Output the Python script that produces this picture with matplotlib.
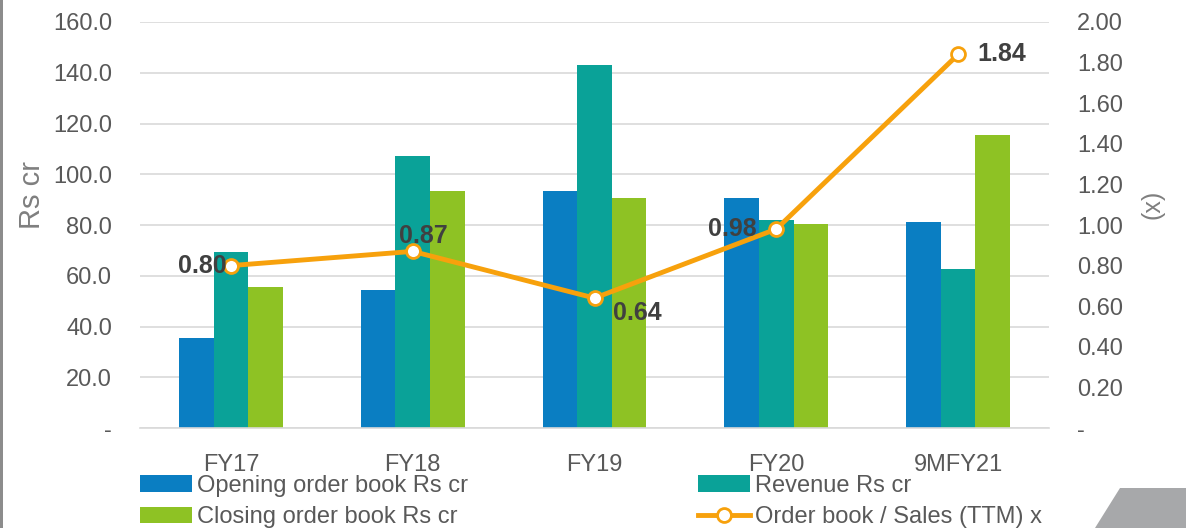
import matplotlib.pyplot as plt
import numpy as np
from matplotlib.patches import Polygon, Rectangle

plt.rcParams['font.family'] = ['Liberation Sans', 'DejaVu Sans']

# data
years = ["FY17", "FY18", "FY19", "FY20", "9MFY21"]
opening = [35.5, 54.5, 93.5, 90.5, 81.0]
revenue = [69.5, 107.0, 143.0, 82.0, 62.5]
closing = [55.5, 93.5, 90.5, 80.5, 115.5]
ratio = [0.80, 0.87, 0.64, 0.98, 1.84]

blue = "#0A7EC2"
teal = "#0AA298"
green = "#8EC224"
orange = "#F7A10C"
grey_txt = "#595959"

fig = plt.figure(figsize=(11.86, 5.28), dpi=100)
ax = fig.add_axes([140/1186, 1 - 428/528, (1049-140)/1186, (428-22)/528])
ax2 = ax.twinx()

x = np.arange(len(years))
w = 0.19
b1 = ax.bar(x - w, opening, w, color=blue, label="Opening order book Rs cr")
b2 = ax.bar(x, revenue, w, color=teal, label="Revenue Rs cr")
b3 = ax.bar(x + w, closing, w, color=green, label="Closing order book Rs cr")

ln, = ax2.plot(x, ratio, color=orange, lw=3.5, marker="o", ms=10,
               mfc="white", mec=orange, mew=2, label="Order book / Sales (TTM) x")

ax.set_xlim(-0.5, 4.5)
ax.set_ylim(0, 160)
ax2.set_ylim(0, 2.0)
ax.set_yticks(np.arange(0, 161, 20))
ax.set_yticklabels(["-"] + ["%.1f" % v for v in np.arange(20, 161, 20)])
ax2.set_yticks(np.arange(0, 2.01, 0.2))
ax2.set_yticklabels(["-"] + ["%.2f" % v for v in np.arange(0.2, 2.01, 0.2)])
ax.set_xticks(x)
ax.set_xticklabels(years)

ax.grid(axis="y", color="#D9D9D9", lw=1.2)
ax.set_axisbelow(True)
for a in (ax, ax2):
    for s in a.spines.values():
        s.set_visible(False)
ax.spines["bottom"].set_visible(True)
ax.spines["bottom"].set_color("#D9D9D9")
ax.spines["bottom"].set_linewidth(1.2)

ax.tick_params(axis="y", length=0, pad=20, labelsize=17, labelcolor=grey_txt)
ax2.tick_params(axis="y", length=0, pad=20, labelsize=17, labelcolor=grey_txt)
ax.tick_params(axis="x", length=0, pad=19, labelsize=17, labelcolor=grey_txt)

ax.set_ylabel("Rs cr", fontsize=21, color="#7F7F7F")
ax.yaxis.set_label_coords((46-140)/909, (428-195)/406)
ax2.set_ylabel("(x)", fontsize=18, color="#7F7F7F", rotation=90)
ax2.yaxis.set_label_coords((1140-140)/909, (428-204)/406)

# data labels on the line
offsets = [(-3, 0, "right", "center"), (-10, 11, "left", "center"),
           (13, -11, "left", "center"), (-14, 0, "right", "center"),
           (14, 0, "left", "center")]
for xi, r, (dx, dy, ha, va) in zip(x, ratio, offsets):
    ax2.annotate("%.2f" % r, (xi, r), xytext=(dx, dy), textcoords="offset points",
                 ha=ha, va=va, fontsize=18, fontweight="bold", color="#404040")

leg_kw = dict(frameon=False, fontsize=17, handlelength=2.2, handletextpad=0.2,
              labelspacing=0.4, borderaxespad=0, borderpad=0, labelcolor=grey_txt)
leg1 = fig.legend([b1, b3], [b1.get_label(), b3.get_label()], loc="upper left",
                  bbox_to_anchor=(140/1186, 1 - 475/528), **leg_kw)
leg2 = fig.legend([b2, ln], [b2.get_label(), ln.get_label()], loc="upper left",
                  bbox_to_anchor=(698/1186, 1 - 475/528), **leg_kw)

# frame decorations
fig.add_artist(Rectangle((0, 0), 3/1186, 1, transform=fig.transFigure,
                         color="#8C8C8C", lw=0))
fig.add_artist(Polygon([(1095/1186, 0), (1120/1186, 40/528), (1, 40/528), (1, 0)],
                       closed=True, transform=fig.transFigure, color="#A7A8AA", lw=0))

fig.savefig("out.png", dpi=100)
